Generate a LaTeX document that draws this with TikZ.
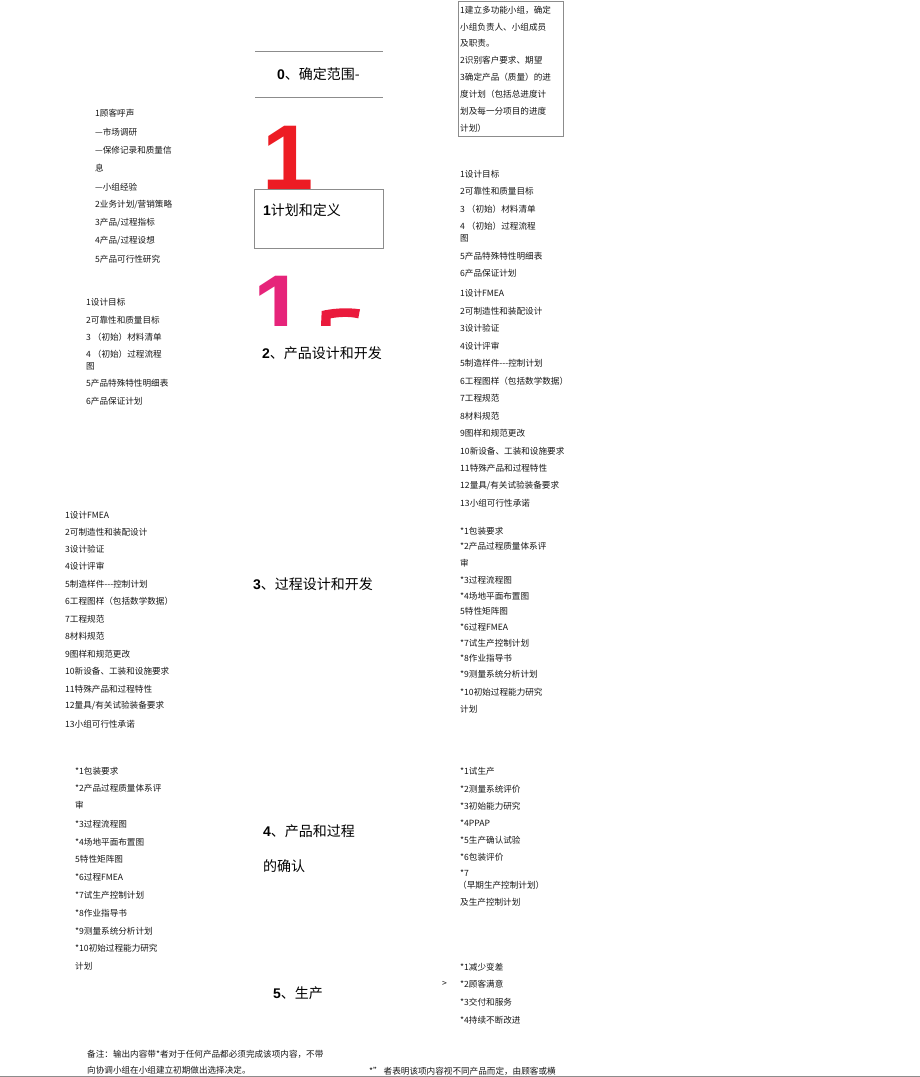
\documentclass[tikz,border=0pt]{standalone}
\usepackage{fontspec}
\setmainfont{Noto Sans CJK SC}
\newfontfamily\latinfont{Liberation Sans}
\definecolor{ink}{HTML}{161616}
\definecolor{rulegray}{HTML}{8C8C8C}
\definecolor{bigred}{HTML}{ED1C24}
\definecolor{bigpink}{HTML}{E6247A}
\definecolor{fragred}{HTML}{EA1A3C}
\tikzset{
 item/.style={anchor=west, inner sep=0pt, text=ink, font=\fontsize{8.6}{10}\selectfont},
 title/.style={anchor=west, inner sep=0pt, text=black, font=\fontsize{14}{16}\selectfont},
 rulel/.style={draw=rulegray, line width=0.8pt},
 bigdigit/.style={anchor=base west, inner sep=0pt, font=\latinfont\bfseries\fontsize{92}{92}\selectfont},
}
\newcommand{\bd}[1]{{\latinfont\bfseries #1}}
\begin{document}
\begin{tikzpicture}[x=1pt,y=-1pt]
\useasboundingbox (0,0) rectangle (920,1077);

% top rules and stage 0
\draw[rulel] (255,51) -- (383,51);
\draw[rulel] (255,97) -- (383,97);
\node[title] (t0) at (277,74) {\bd{0}、确定范围-};

% top-right box
\node[draw=rulegray, line width=0.8pt, anchor=north west, minimum width=105pt, minimum height=135pt, inner sep=0pt] (tr) at (458,1) {};
\foreach \yy/\txt [count=\i] in {
 10/{1建立多功能小组，确定},
 27/{小组负责人、小组成员},
 43/{及职责。},
 60/{2识别客户要求、期望},
 77/{3确定产品（质量）的进},
 94/{度计划（包括总进度计},
 111/{划及每一分项目的进度},
 128/{计划）}}
 \node[item, name=TR-\i] at (460,\yy) {\txt};

% big red 1 and box
\node[bigdigit, text=bigred] (red1) at (262,189) {1};
\node[draw=rulegray, fill=white, line width=0.8pt, anchor=north west, minimum width=129pt, minimum height=59pt, inner sep=0pt] (b1) at (254,189) {};
\node[title] (t1) at (263,210) {\bd{1}计划和定义};

% pink 1 and red fragment (clipped)
\begin{scope}
\clip (240,265) rectangle (380,325);
\node[bigdigit, text=bigpink] (pink1) at (253,339) {1};
\fill[fragred] (321,326) -- (321.7,311) .. controls (330,309) and (345,307) .. (360,309.3)
  -- (358.3,318.3) .. controls (348,316) and (338,317) .. (330.7,318.3) -- (330.7,326) -- cycle;
\end{scope}

% left list 1
\foreach \yy/\txt [count=\i] in {
 113/{1顾客呼声},
 132/{—市场调研},
 150/{—保修记录和质量信},
 168/{息},
 187/{—小组经验},
 205/{2业务计划/营销策略},
 223/{3产品/过程指标},
 241/{4产品/过程设想},
 259/{5产品可行性研究}}
 \node[item, name=L1-\i] at (95,\yy) {\txt};

% right list 2
\foreach \yy/\txt [count=\i] in {
 174/{1设计目标},
 191/{2可靠性和质量目标},
 209/{3 （初始）材料清单},
 226/{4 （初始）过程流程},
 238/{图},
 256/{5产品特殊特性明细表},
 273/{6产品保证计划}}
 \node[item, name=R2-\i] at (460,\yy) {\txt};

% left list 2
\foreach \yy/\txt [count=\i] in {
 302/{1设计目标},
 320/{2可靠性和质量目标},
 337/{3 （初始）材料清单},
 354/{4 （初始）过程流程},
 366/{图},
 383/{5产品特殊特性明细表},
 401/{6产品保证计划}}
 \node[item, name=L2-\i] at (86,\yy) {\txt};

\node[title] (t2) at (262,353) {\bd{2}、产品设计和开发};

% right list 3
\foreach \yy/\txt [count=\i] in {
 293/{1设计FMEA},
 311/{2可制造性和装配设计},
 328/{3设计验证},
 346/{4设计评审},
 363/{5制造样件-{}-{}-控制计划},
 381/{6工程图样（包括数学数据）},
 398/{7工程规范},
 416/{8材料规范},
 433/{9图样和规范更改},
 451/{10新设备、工装和设施要求},
 468/{11特殊产品和过程特性},
 486/{12量具/有关试验装备要求},
 503/{13小组可行性承诺}}
 \node[item, name=R3-\i] at (460,\yy) {\txt};

% left list 3
\foreach \yy/\txt [count=\i] in {
 515/{1设计FMEA},
 532/{2可制造性和装配设计},
 549/{3设计验证},
 566/{4设计评审},
 584/{5制造样件-{}-{}-控制计划},
 601/{6工程图样（包括数学数据）},
 619/{7工程规范},
 636/{8材料规范},
 654/{9图样和规范更改},
 671/{10新设备、工装和设施要求},
 689/{11特殊产品和过程特性},
 706/{12量具/有关试验装备要求},
 724/{13小组可行性承诺}}
 \node[item, name=L3-\i] at (65,\yy) {\txt};

\node[title] (t3) at (253,584) {\bd{3}、过程设计和开发};

% right list 4
\foreach \yy/\txt [count=\i] in {
 531/{*1包装要求},
 546/{*2产品过程质量体系评},
 563/{审},
 580/{*3过程流程图},
 596/{*4场地平面布置图},
 611/{5特性矩阵图},
 627/{*6过程FMEA},
 643/{*7试生产控制计划},
 658/{*8作业指导书},
 674/{*9测量系统分析计划},
 692/{*10初始过程能力研究},
 709/{计划}}
 \node[item, name=R4-\i] at (460,\yy) {\txt};

% left list 4
\foreach \yy/\txt [count=\i] in {
 771/{*1包装要求},
 788/{*2产品过程质量体系评},
 805/{审},
 824/{*3过程流程图},
 842/{*4场地平面布置图},
 859/{5特性矩阵图},
 877/{*6过程FMEA},
 895/{*7试生产控制计划},
 913/{*8作业指导书},
 931/{*9测量系统分析计划},
 948/{*10初始过程能力研究},
 966/{计划}}
 \node[item, name=L4-\i] at (75,\yy) {\txt};

\node[title] (t4a) at (263,831) {\bd{4}、产品和过程};
\node[title] (t4b) at (263,866) {的确认};

% right list 5
\foreach \yy/\txt [count=\i] in {
 771/{*1试生产},
 789/{*2测量系统评价},
 806/{*3初始能力研究},
 823/{*4PPAP},
 840/{*5生产确认试验},
 857/{*6包装评价},
 873/{*7},
 902/{及生产控制计划}}
 \node[item, name=R5-\i] at (460,\yy) {\txt};
\node[item] (R5-x) at (458,885) {（早期生产控制计划）};

\node[title] (t5) at (273,993) {\bd{5}、生产};

% right list 6
\foreach \yy/\txt [count=\i] in {
 967/{*1减少变差},
 984/{*2顾客满意},
 1002/{*3交付和服务},
 1020/{*4持续不断改进}}
 \node[item, name=R6-\i] at (460,\yy) {\txt};
\node[item] (gt) at (442,984) {>};

% notes
\node[item] (n1) at (87,1054) {备注：输出内容带*者对于任何产品都必须完成该项内容，不带};
\node[item] (n2) at (87,1070) {向协调小组在小组建立初期做出选择决定。};
\node[item] (n3) at (369,1071) {*” 者表明该项内容视不同产品而定，由顾客或横};

\draw[rulel] (0,1076.5) -- (920,1076.5);
\end{tikzpicture}
\end{document}
